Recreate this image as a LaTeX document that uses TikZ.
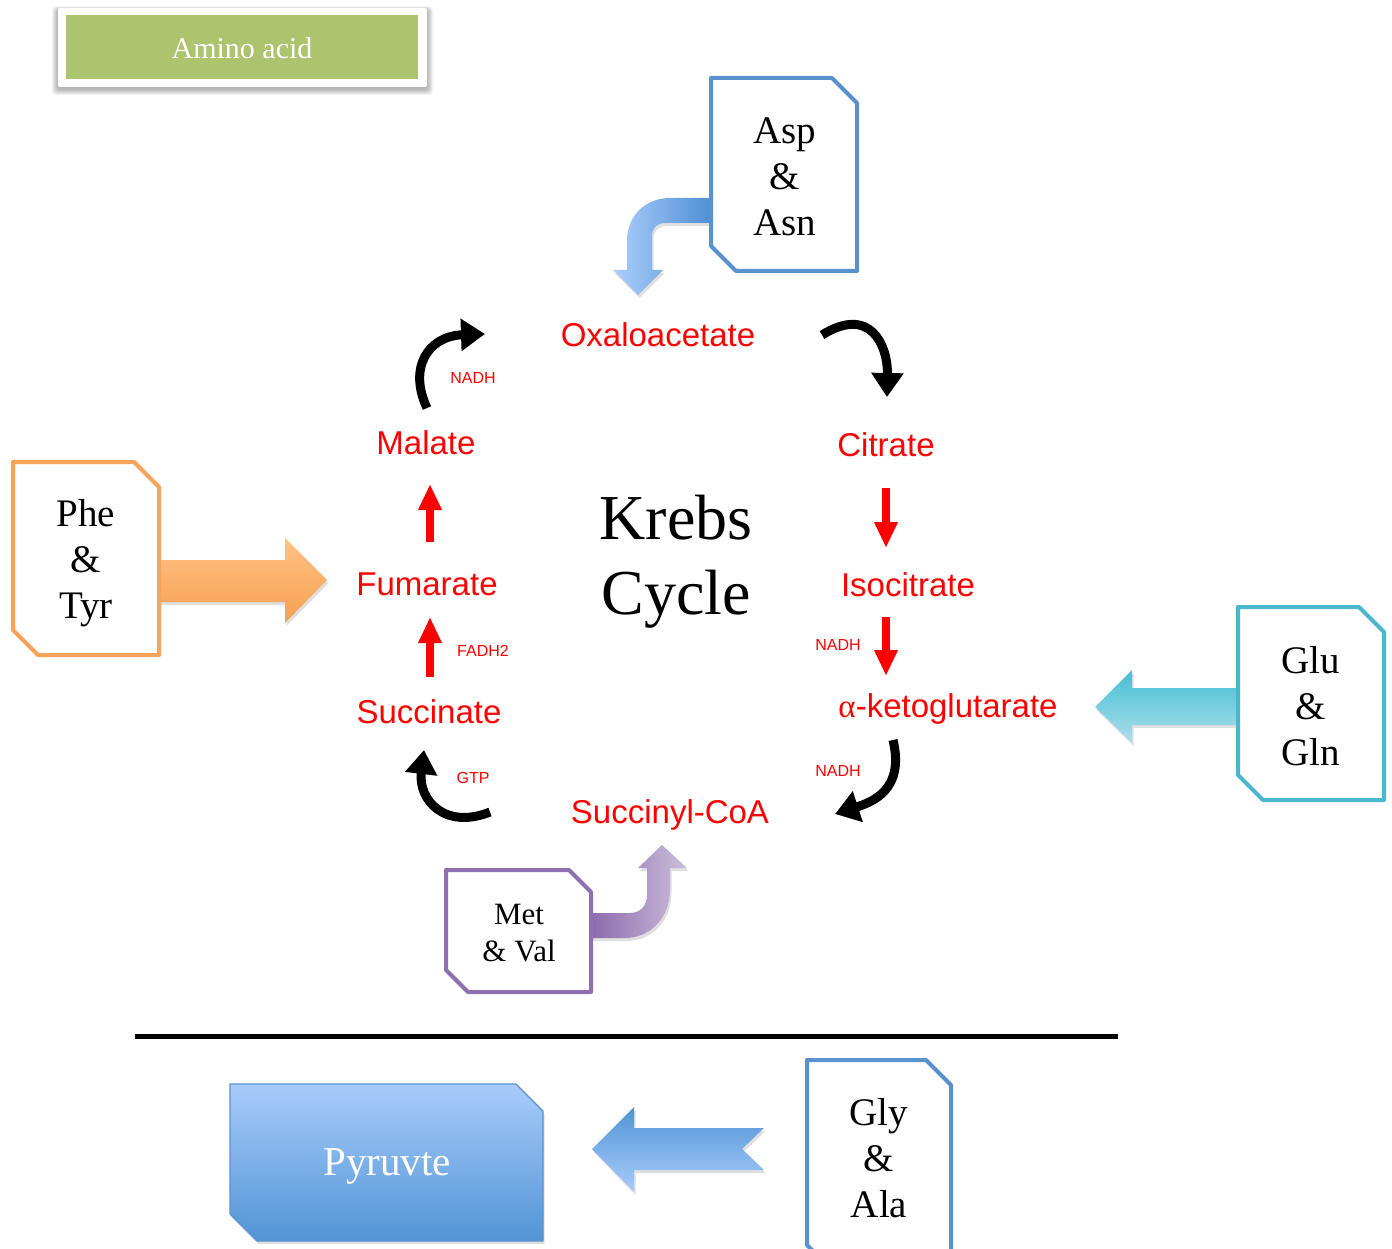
\documentclass[tikz,border=0pt]{standalone}
\usepackage{fontspec}
\setmainfont{Liberation Serif}
\newfontfamily\arialf{Liberation Sans}
\newfontfamily\greekf{Liberation Serif}
\usetikzlibrary{arrows.meta,shadows}
\definecolor{amgreen}{HTML}{ACC46E}
\definecolor{bluebox}{HTML}{5B92CE}
\definecolor{orgbox}{HTML}{F7A35A}
\definecolor{cyanbox}{HTML}{4BB7CF}
\definecolor{purbox}{HTML}{8D70AF}
\definecolor{pyrtop}{HTML}{A8CCFA}
\definecolor{pyrbot}{HTML}{5294D6}
\definecolor{aspdark}{HTML}{4F8FD6}
\definecolor{kred}{HTML}{FF0000}
\newcommand\snipbox[6]{\draw[line width=4pt,draw=#1,line join=round,fill=white] (#2,#3) -- ({#4-#6},#3) -- (#4,{#3+#6}) -- (#4,#5) -- ({#2+#6},#5) -- (#2,{#5-#6}) -- cycle;}
\begin{document}
\begin{tikzpicture}[x=1pt,y=-1pt,
  redlbl/.style={text=kred,font=\arialf\fontsize{33}{33}\selectfont,inner sep=0pt,text height=24pt,text depth=0pt},
  smalllbl/.style={text=kred,font=\arialf\fontsize{16}{16}\selectfont,inner sep=0pt,text height=11.5pt,text depth=0pt},
  boxtxt/.style={font=\fontsize{39}{46}\selectfont,align=center,text=black,inner sep=0pt},
  blackarc/.style={line width=9pt,-{Triangle[width=31pt,length=24pt]}},
  redarr/.style={draw=kred,line width=8.5pt,-{Triangle[width=22pt,length=26pt]}},
  shad/.style={drop shadow={opacity=0.25,shadow xshift=1.5pt,shadow yshift=-3pt}}]
\useasboundingbox (0,0) rectangle (1392,1249);
\fill[white] (0,0) rectangle (1392,1249);

% legend
\foreach \i in {0,1,...,5}
  \fill[black,opacity=0.05,rounded corners=4pt] ({57-\i},{9-\i*0.5}) rectangle ({428+\i},{90+\i});
\fill[white,rounded corners=2pt] (58,8) rectangle (427,87);
\fill[amgreen] (66,15) rectangle (418,79);
\node[text=white,font=\fontsize{30}{30}\selectfont] (amino) at (242,48) {Amino acid};

% block arrows
\shade[shad,left color=pyrtop!95!white,right color=aspdark] (711,198) -- (670,198) .. controls (645,198) and (627,216) .. (627,241) -- (627,270) -- (613,270) -- (638,295) -- (663,270) -- (652,270) -- (652,236) .. controls (652,228) and (657,223) .. (665,223) -- (711,223) -- cycle;
\shade[shad,top color=orange!45!white!95!orange,bottom color=orgbox!90!orange] (159,560) -- (285,560) -- (285,538) -- (327,580) -- (285,623) -- (285,602) -- (159,602) -- cycle;
\shade[shad,top color=cyanbox!90!cyan,bottom color=cyanbox!45!white] (1238,688) -- (1132,688) -- (1132,670) -- (1095,707) -- (1132,743) -- (1132,725) -- (1238,725) -- cycle;
\shade[shad,left color=purbox!95!violet,right color=purbox!45!white] (591,913) -- (630,913) .. controls (641,913) and (647,905) .. (647,895) -- (647,868) -- (638,868) -- (662,845) -- (687,868) -- (670,868) -- (670,890) .. controls (670,918) and (650,938) .. (625,938) -- (591,938) -- cycle;
\shade[shad,top color=pyrbot,bottom color=pyrtop] (764,1128) -- (634,1128) -- (634,1107) -- (592,1149) -- (634,1192) -- (634,1170) -- (764,1170) -- (742,1149) -- cycle;

% amino-acid boxes
\snipbox{bluebox}{711}{78}{857}{271}{25}
\node[boxtxt] (asp) at (785,177) {Asp\\\&\\Asn};
\snipbox{orgbox}{13}{462}{159}{655}{25}
\node[boxtxt] (phe) at (86,563) {Phe\\\&\\Tyr};
\snipbox{cyanbox}{1238}{607}{1384}{800}{25}
\node[boxtxt] (glu) at (1311,706) {Glu\\\&\\Gln};
\snipbox{purbox}{446}{870}{591}{992}{22}
\node[boxtxt,font=\fontsize{31}{37}\selectfont] (met) at (519,933) {Met\\\& Val};
\snipbox{bluebox}{807}{1060}{951}{1270}{25}
\node[boxtxt] (gly) at (879,1158) {Gly\\\&\\Ala};

% pyruvate box
\shade[shad,top color=pyrtop,bottom color=pyrbot] (230,1084) -- (516,1084) -- (543,1111) -- (543,1241) -- (257,1241) -- (230,1214) -- cycle;
\draw[bluebox,line width=1.2pt,line join=round] (230,1084) -- (516,1084) -- (543,1111) -- (543,1241) -- (257,1241) -- (230,1214) -- cycle;
\node[text=white,font=\fontsize{41}{41}\selectfont] (pyr) at (387,1166) {Pyruvte};

% separator
\coordinate (sepL) at (135,1036);
\coordinate (sepR) at (1118,1036);
\draw[line width=5pt] (sepL) -- (sepR);

% Krebs cycle
\node[font=\fontsize{64}{75}\selectfont,align=center,inner sep=0pt] (krebs) at (676,562) {Krebs\\Cycle};
\node[redlbl] (oaa) at (658,334) {Oxaloacetate};
\node[redlbl] (cit) at (886,444) {Citrate};
\node[redlbl] (iso) at (908,584) {Isocitrate};
\node[redlbl] (akg) at (948,705) {{\greekf α}-ketoglutarate};
\node[redlbl] (scoa) at (670,811) {Succinyl-CoA};
\node[redlbl] (suc) at (429,711) {Succinate};
\node[redlbl] (fum) at (427,583) {Fumarate};
\node[redlbl] (mal) at (426,442) {Malate};
\node[smalllbl] (nadh1) at (473,378) {NADH};
\node[smalllbl] (fadh) at (483,651) {FADH2};
\node[smalllbl] (gtp) at (473,778) {GTP};
\node[smalllbl] (nadh2) at (838,645) {NADH};
\node[smalllbl] (nadh3) at (838,771) {NADH};

% red straight arrows
\coordinate (r1s) at (430,542); \coordinate (r1e) at (430,484);
\coordinate (r2s) at (430,677); \coordinate (r2e) at (430,617);
\coordinate (r3s) at (886,488); \coordinate (r3e) at (886,548);
\coordinate (r4s) at (886,617); \coordinate (r4e) at (886,676);
\draw[redarr] (r1s) -- (r1e);
\draw[redarr] (r2s) -- (r2e);
\draw[redarr] (r3s) -- (r3e);
\draw[redarr] (r4s) -- (r4e);

% black curved arrows
\coordinate (b1s) at (427,408); \coordinate (b1e) at (485,334);
\coordinate (b2s) at (822,335); \coordinate (b2e) at (887,397);
\coordinate (b3s) at (893,740); \coordinate (b3e) at (835,814);
\coordinate (b4s) at (490,812); \coordinate (b4e) at (424,750);
\draw[blackarc] (b1s) .. controls (408,368) and (428,336) .. (b1e);
\draw[blackarc] (b2s) .. controls (870,305) and (888,345) .. (b2e);
\draw[blackarc] (b3s) .. controls (905,790) and (872,802) .. (b3e);
\draw[blackarc] (b4s) .. controls (445,830) and (418,800) .. (b4e);
\end{tikzpicture}
\end{document}
